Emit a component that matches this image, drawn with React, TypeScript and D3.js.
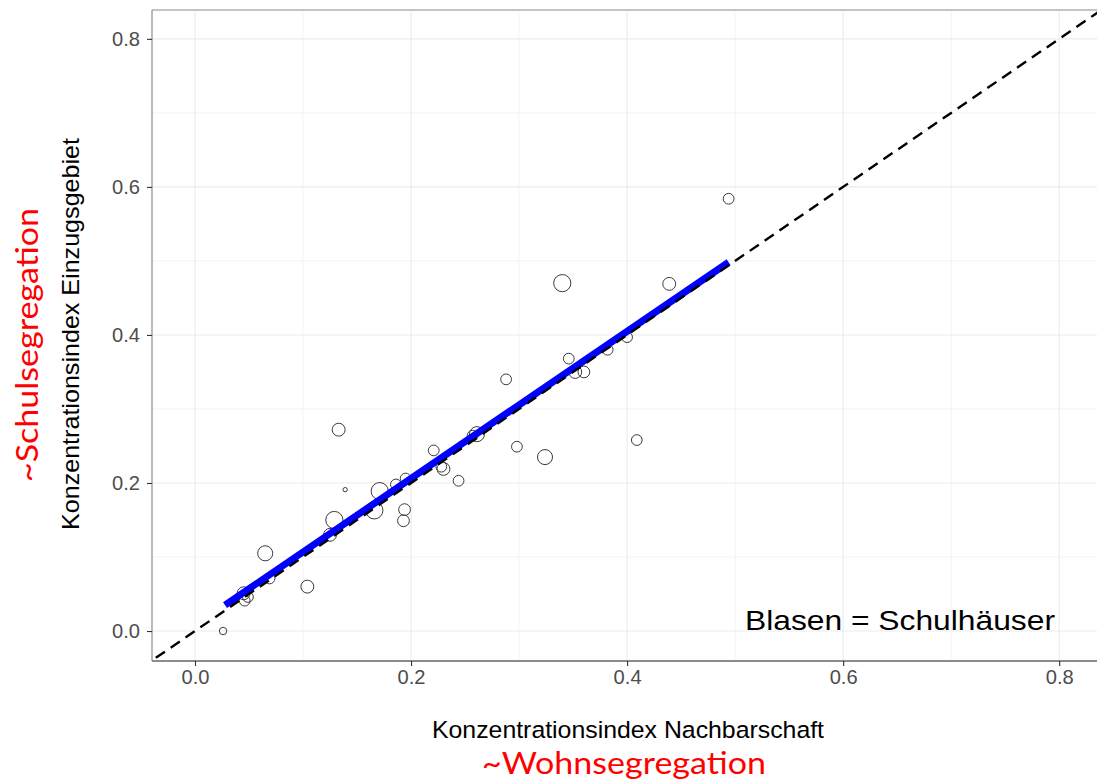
import React, { useRef, useEffect } from 'react';
import * as d3 from 'd3';

// Konzentrationsindex Nachbarschaft (x), Einzugsgebiet (y), Blasengrösse (Schülerzahl)
const nachbarschaft = [
    0.026, 0.045, 0.049, 0.046, 0.065, 0.069, 0.104, 0.125, 0.129, 0.133, 0.139, 0.166,
    0.171, 0.186, 0.193, 0.194, 0.195, 0.221, 0.228, 0.230, 0.244, 0.261, 0.257, 0.288,
    0.298, 0.324, 0.340, 0.346, 0.352, 0.360, 0.382, 0.400, 0.409, 0.439, 0.494
];
const einzugsgebiet = [
    0.000, 0.051, 0.046, 0.041, 0.105, 0.071, 0.060, 0.130, 0.150, 0.272, 0.191, 0.163,
    0.189, 0.198, 0.149, 0.164, 0.206, 0.244, 0.222, 0.219, 0.203, 0.266, 0.264, 0.340,
    0.249, 0.235, 0.470, 0.368, 0.350, 0.350, 0.380, 0.397, 0.258, 0.469, 0.584
];
const schueler = [
    120, 360, 250, 250, 490, 250, 360, 360, 640, 360, 40, 640,
    640, 250, 300, 300, 250, 250, 250, 360, 250, 490, 250, 250,
    250, 490, 640, 250, 360, 300, 250, 250, 250, 360, 250
];

// lineare Regression
const fitRange = [0.0278, 0.494];
const fitIntercept = 0.0074;
const fitSlope = 0.9935;

const tickValues = [0, 0.2, 0.4, 0.6, 0.8];
const minorValues = [0.1, 0.3, 0.5, 0.7];

const App = () => {
    const svgRef = useRef<SVGSVGElement>(null);

    useEffect(() => {
        drawChart();
    }, []);

    const drawChart = () => {
        const svg = d3.select(svgRef.current);
        svg.selectAll('*').remove();

        const W = 1097, H = 781;
        const left = 152, right = 1097, top = 10, bottom = 661;
        const font = '"Liberation Sans", Arial, sans-serif';
        const redFont = 'Lato, "Open Sans", sans-serif';

        svg.attr('width', W).attr('height', H);

        const x = d3.scaleLinear().domain([-0.0398, 0.835]).range([left, right]);
        const y = d3.scaleLinear().domain([-0.0405, 0.839]).range([bottom, top]);
        const r = d3.scaleSqrt().domain([0, 640]).range([0, 8.6]);

        svg.append('rect').attr('width', W).attr('height', H).attr('fill', '#fff');

        svg.append('defs').append('clipPath').attr('id', 'panel')
            .append('rect')
            .attr('x', left).attr('y', top)
            .attr('width', right - left).attr('height', bottom - top);

        // grid
        const grid = svg.append('g');
        grid.selectAll('.vmin').data(minorValues).enter().append('line')
            .attr('x1', d => x(d)).attr('x2', d => x(d))
            .attr('y1', top).attr('y2', bottom)
            .attr('stroke', '#f0f0f0').attr('stroke-width', 0.8);
        grid.selectAll('.hmin').data(minorValues).enter().append('line')
            .attr('y1', d => y(d)).attr('y2', d => y(d))
            .attr('x1', left).attr('x2', right)
            .attr('stroke', '#f0f0f0').attr('stroke-width', 0.8);
        grid.selectAll('.vmaj').data(tickValues).enter().append('line')
            .attr('x1', d => x(d)).attr('x2', d => x(d))
            .attr('y1', top).attr('y2', bottom)
            .attr('stroke', '#ebebeb').attr('stroke-width', 1.1);
        grid.selectAll('.hmaj').data(tickValues).enter().append('line')
            .attr('y1', d => y(d)).attr('y2', d => y(d))
            .attr('x1', left).attr('x2', right)
            .attr('stroke', '#ebebeb').attr('stroke-width', 1.1);

        const panel = svg.append('g').attr('clip-path', 'url(#panel)');

        // Punkte
        const idx = d3.range(nachbarschaft.length);
        panel.selectAll('.pt').data(idx).enter().append('circle')
            .attr('cx', i => x(nachbarschaft[i]))
            .attr('cy', i => y(einzugsgebiet[i]))
            .attr('r', i => r(schueler[i]))
            .attr('fill', 'none')
            .attr('stroke', '#3a3a3a')
            .attr('stroke-width', 1);

        // Regressionsgerade
        const line = d3.line<number>().x(d => x(d)).y(d => y(fitIntercept + fitSlope * d));
        panel.append('path')
            .attr('d', line(fitRange))
            .attr('stroke', '#0000ff')
            .attr('stroke-width', 7)
            .attr('fill', 'none');

        // Diagonale y = x
        const diag = [-0.05, 0.9];
        panel.append('path')
            .attr('d', d3.line<number>().x(d => x(d)).y(d => y(d))(diag))
            .attr('stroke', '#000')
            .attr('stroke-width', 2.4)
            .attr('stroke-dasharray', '11,7')
            .attr('fill', 'none');

        // Rahmen
        svg.append('line').attr('x1', left).attr('x2', right).attr('y1', top).attr('y2', top)
            .attr('stroke', '#8c8c8c').attr('stroke-width', 1.2);
        svg.append('line').attr('x1', left).attr('x2', left).attr('y1', top).attr('y2', bottom)
            .attr('stroke', '#8c8c8c').attr('stroke-width', 1.2);
        svg.append('line').attr('x1', left).attr('x2', right).attr('y1', bottom).attr('y2', bottom)
            .attr('stroke', '#666').attr('stroke-width', 1.6);

        // Achsen
        const xAxis = d3.axisBottom(x).tickValues(tickValues).tickFormat(d3.format('.1f'))
            .tickSize(5).tickPadding(3);
        const yAxis = d3.axisLeft(y).tickValues(tickValues).tickFormat(d3.format('.1f'))
            .tickSize(5).tickPadding(7);

        const gx = svg.append('g').attr('transform', `translate(0,${bottom})`).call(xAxis);
        const gy = svg.append('g').attr('transform', `translate(${left},0)`).call(yAxis);
        [gx, gy].forEach(g => {
            g.select('.domain').remove();
            g.selectAll('line').attr('stroke', '#333').attr('stroke-width', 1.1);
            g.selectAll('text')
                .attr('fill', '#4d4d4d')
                .attr('textLength', 28)
                .attr('lengthAdjust', 'spacingAndGlyphs')
                .style('font-family', font)
                .style('font-size', '20.5px');
        });

        // Titel
        svg.append('text')
            .attr('x', 628).attr('y', 737.5)
            .attr('text-anchor', 'middle')
            .attr('textLength', 392).attr('lengthAdjust', 'spacingAndGlyphs')
            .style('font-family', font).style('font-size', '24.5px')
            .attr('fill', '#000')
            .text('Konzentrationsindex Nachbarschaft');

        svg.append('text')
            .attr('transform', 'translate(79,334) rotate(-90)')
            .attr('text-anchor', 'middle')
            .attr('textLength', 392).attr('lengthAdjust', 'spacingAndGlyphs')
            .style('font-family', font).style('font-size', '24.5px')
            .attr('fill', '#000')
            .text('Konzentrationsindex Einzugsgebiet');

        svg.append('text')
            .attr('x', 624).attr('y', 774)
            .attr('text-anchor', 'middle')
            .attr('textLength', 284).attr('lengthAdjust', 'spacingAndGlyphs')
            .style('font-family', redFont).style('font-size', '31px')
            .attr('fill', '#ff0000')
            .text('~Wohnsegregation');

        svg.append('text')
            .attr('transform', 'translate(38,345) rotate(-90)')
            .attr('text-anchor', 'middle')
            .attr('textLength', 274).attr('lengthAdjust', 'spacingAndGlyphs')
            .style('font-family', redFont).style('font-size', '31px')
            .attr('fill', '#ff0000')
            .text('~Schulsegregation');

        svg.append('text')
            .attr('x', 745).attr('y', 630)
            .attr('textLength', 310).attr('lengthAdjust', 'spacingAndGlyphs')
            .style('font-family', font).style('font-size', '28.5px')
            .attr('fill', '#000')
            .text('Blasen = Schulhäuser');
    };

    return (
        <svg ref={svgRef} style={{ position: 'absolute', left: 0, top: 0, display: 'block' }}></svg>
    );
};

export default App;
